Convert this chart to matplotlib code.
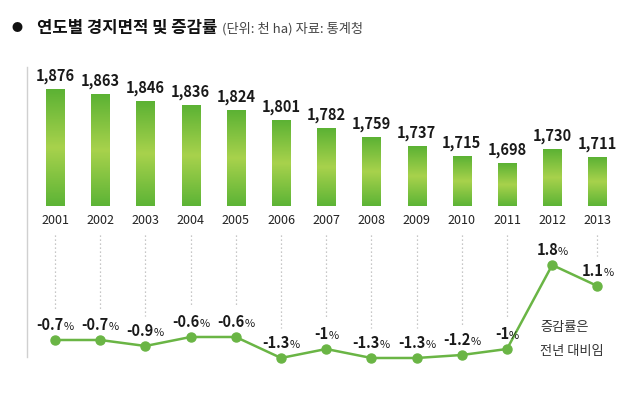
import matplotlib.pyplot as plt
import numpy as np
from matplotlib.colors import LinearSegmentedColormap

plt.rcParams['font.family'] = ['Noto Sans CJK KR', 'DejaVu Sans']

# data
years = ['2001', '2002', '2003', '2004', '2005', '2006', '2007',
         '2008', '2009', '2010', '2011', '2012', '2013']
area = [1876, 1863, 1846, 1836, 1824, 1801, 1782, 1759, 1737, 1715, 1698, 1730, 1711]
area_labels = ['1,876', '1,863', '1,846', '1,836', '1,824', '1,801', '1,782',
               '1,759', '1,737', '1,715', '1,698', '1,730', '1,711']
change = [-0.7, -0.7, -0.9, -0.6, -0.6, -1.3, -1.0, -1.3, -1.3, -1.2, -1.0, 1.8, 1.1]
change_labels = ['-0.7', '-0.7', '-0.9', '-0.6', '-0.6', '-1.3', '-1',
                 '-1.3', '-1.3', '-1.2', '-1', '1.8', '1.1']

W, H = 640, 393
fig = plt.figure(figsize=(6.4, 3.93), dpi=100)
fig.patch.set_facecolor('white')


def px_box(left, top, right, bottom):
    return [left / W, 1 - bottom / H, (right - left) / W, (bottom - top) / H]


x = np.arange(len(years))
xlim = (-0.62, 12.5)

# ---- bar part ----
ax = fig.add_axes(px_box(27, 60, 620, 206))
ax.set_xlim(*xlim)
ax.set_ylim(1595, 1946)
ax.axis('off')

green = LinearSegmentedColormap.from_list('g', ['#5cb234', '#a8d24c', '#5db436'])
grad = np.linspace(0, 1, 100).reshape(-1, 1)
bw = 0.4
for xi, v in zip(x, area):
    ax.imshow(grad, cmap=green, aspect='auto', extent=(xi - bw / 2, xi + bw / 2, 1595, v),
              origin='upper', zorder=2)
    ax.annotate(area_labels[xi], (xi, v), xytext=(0, 4), textcoords='offset points',
                ha='center', va='bottom', fontsize=10.5, fontweight='bold', color='#1a1a1a')
ax.set_xlim(*xlim)
ax.set_ylim(1595, 1946)
for xi, yr in zip(x, years):
    ax.annotate(yr, (xi, 1595), xytext=(0, -10.5), textcoords='offset points',
                ha='center', va='center', fontsize=9, fontweight='medium', color='#222222')

# ---- line part ----
lx = fig.add_axes(px_box(27, 235, 620, 375))
lx.set_xlim(*xlim)
lx.set_ylim(-1.867, 2.8)
lx.axis('off')

for xi, v in zip(x, change):
    lx.plot([xi, xi], [2.8, v + 1.0], color='#b5b5b5', lw=0.9, ls=(0, (1, 2.2)), zorder=1)
lx.plot(x, change, color='#6ab545', lw=1.8, marker='o', markersize=6.5,
        markerfacecolor='#6ab545', markeredgecolor='#6ab545', zorder=3)

num_texts = []
for xi, v in zip(x, change):
    t1 = lx.annotate(change_labels[xi], (xi, v), xytext=(0, 7), textcoords='offset points',
                     ha='right', va='baseline', fontsize=10.5, fontweight='bold', color='#1a1a1a')
    t2 = lx.annotate('%', (xi, v), xytext=(0, 7), textcoords='offset points',
                     ha='left', va='baseline', fontsize=8, color='#1a1a1a')
    num_texts.append((t1, t2))

# left gray rule
fig.add_artist(plt.Line2D([27 / W, 27 / W], [1 - 67 / H, 1 - 357 / H], color='#d0d0d0', lw=1))

# note
fig.text(540 / W, 1 - 328 / H, '증감률은', fontsize=9.5, color='#333333', va='center')
fig.text(540 / W, 1 - 351 / H, '전년 대비임', fontsize=9.5, color='#333333', va='center')

# title
fig.text(17 / W, 1 - 28 / H, '●', fontsize=8, color='#111111', va='center', ha='center')
t_main = fig.text(37 / W, 1 - 28 / H, '연도별 경지면적 및 증감률', fontsize=12,
                  fontweight='bold', color='#111111', va='center')

fig.canvas.draw()
r = fig.canvas.get_renderer()
bb = t_main.get_window_extent(r)
fig.text((bb.x1 + 5) / W, 1 - 28.5 / H, '(단위: 천 ha) 자료: 통계청', fontsize=9.5,
         color='#444444', va='center')

# center the split percent labels
for t1, t2 in num_texts:
    w1 = t1.get_window_extent(r).width
    w2 = t2.get_window_extent(r).width
    s = (w1 - w2) / 2 * 72 / fig.dpi
    t1.set_position((s, 7))
    t2.set_position((s, 7))

fig.savefig('out.png', dpi=100, facecolor='white')
